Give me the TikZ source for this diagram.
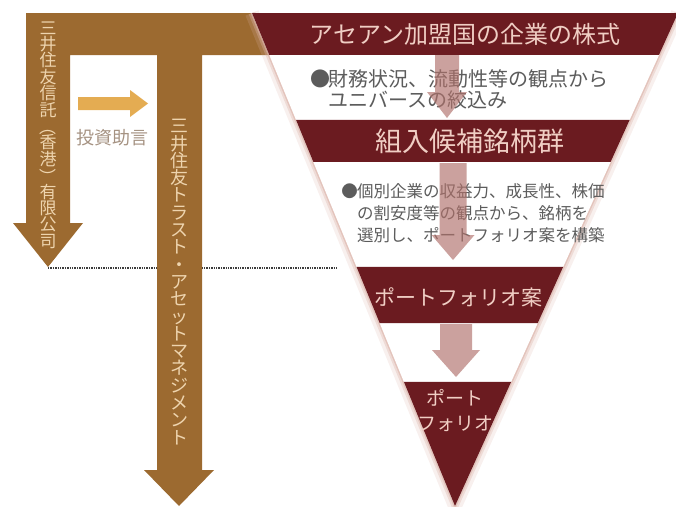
\documentclass[tikz,border=0pt]{standalone}
\usepackage{fontspec}
\setmainfont{Noto Sans CJK JP}
\usepackage{graphicx}
\usepackage{tikz}
\usetikzlibrary{calc}

\definecolor{trustbrown}{RGB}{156,106,48}
\definecolor{columncream}{RGB}{238,212,174}
\definecolor{bandred}{RGB}{107,27,32}
\definecolor{bandpink}{RGB}{240,206,196}
\definecolor{notegray}{RGB}{92,92,92}
\definecolor{dotgray}{RGB}{60,60,60}
\definecolor{advicegold}{RGB}{228,172,82}
\definecolor{advicegray}{RGB}{165,146,130}
\definecolor{arrowpink}{RGB}{176,112,106}
\definecolor{shadowpink}{RGB}{220,180,170}

% bracket turned for vertical setting
\newcommand{\vbracket}[1]{\makebox[1em]{\raisebox{.8em}[.88em][.12em]{\rotatebox{-90}{#1}}}}

\tikzset{
  bandlabel/.style={text=bandpink, inner sep=0pt},
  notelabel/.style={text=notegray, inner sep=0pt, anchor=west, align=left},
  columnlabel/.style={text=columncream, inner sep=0pt, align=center},
  funnelarrow/.style={fill=arrowpink, fill opacity=.65},
}

\begin{document}
\begin{tikzpicture}[x=1pt, y=-1pt]
			\useasboundingbox (0,0) rectangle (676,506);
			\coordinate (tl) at (252,13);
			\coordinate (tr) at (678,13);
			\coordinate (ap) at (455,506);
			% dotted line behind the frame
			\coordinate (hktip) at (48,268);
			\coordinate (dotend) at (338,268);
			\draw[dotgray, line width=1.6pt, dash pattern=on 1.3pt off 1.1pt] (hktip) -- (dotend);
			% brown frame with both arrows
			\fill[trustbrown] (26,13) -- (275,13) -- (275,55) -- (202,55) -- (202,470) -- (214,470) -- (179,506) -- (144,470) -- (157,470) -- (157,55) -- (70,55) -- (70,223) -- (83,223) -- (48,267) -- (13,223) -- (26,223) -- cycle;
			\node[columnlabel, font=\fontsize{17}{16.4}\selectfont] (hongkong) at (48,135) {三\\井\\住\\友\\信\\託\\\vbracket{（}\\香\\港\\\vbracket{）}\\有\\限\\公\\司};
			\node[columnlabel, font=\fontsize{18}{17.3}\selectfont] (assetmgmt) at (179,282) {三\\井\\住\\友\\ト\\ラ\\ス\\ト\\・\\ア\\セ\\ッ\\ト\\マ\\ネ\\ジ\\メ\\ン\\ト};
			\fill[advicegold] (78,97) -- (130,97) -- (130,90) -- (148,103.5) -- (130,117) -- (130,110) -- (78,110) -- cycle;
			\node[text=advicegray, font=\fontsize{18}{18}\selectfont, inner sep=0pt] (advice) at (112,138) {投資助言};
			% funnel
			\draw[shadowpink, line width=14pt, opacity=.2] (tl) -- (ap) -- (tr);
			\draw[shadowpink, line width=7pt, opacity=.35] (tl) -- (ap) -- (tr);
			\draw[shadowpink, line width=3pt, opacity=.6] (tl) -- (ap) -- (tr);
			\fill[white] (tl) -- (tr) -- (ap) -- cycle;
			\fill[bandred] (tl) -- (tr) -- ($(tr)!.085!(ap)$) -- ($(tl)!.085!(ap)$) -- cycle;
			\fill[bandred] ($(tl)!.217!(ap)$) -- ($(tr)!.217!(ap)$) -- ($(tr)!.302!(ap)$) -- ($(tl)!.302!(ap)$) -- cycle;
			\fill[bandred] ($(tl)!.515!(ap)$) -- ($(tr)!.515!(ap)$) -- ($(tr)!.629!(ap)$) -- ($(tl)!.629!(ap)$) -- cycle;
			\fill[bandred] ($(tl)!.748!(ap)$) -- ($(tr)!.748!(ap)$) -- (ap) -- cycle;
			\node[bandlabel, font=\fontsize{24}{24}\selectfont] (stocks) at (465,34) {アセアン加盟国の企業の株式};
			\node[notelabel, font=\fontsize{20}{21}\selectfont] (screening) at (313,89) {\makebox[15pt][c]{●}財務状況、流動性等の観点から\\\hspace*{15pt}ユニバースの絞込み};
			\node[bandlabel, font=\fontsize{27}{27}\selectfont] (candidates) at (470,141) {組入候補銘柄群};
			\node[notelabel, font=\fontsize{16.5}{22}\selectfont] (selection) at (342,213.5) {\makebox[15pt][c]{●}個別企業の収益力、成長性、株価\\\hspace*{15pt}の割安度等の観点から、銘柄を\\\hspace*{15pt}選別し、ポートフォリオ案を構築};
			\node[bandlabel, font=\fontsize{21}{21}\selectfont] (draft) at (458,297) {ポートフォリオ案};
			\node[bandlabel, align=center, font=\fontsize{19}{25}\selectfont] (portfolio) at (455,411) {ポート\\フォリオ};
			% pink arrows between the bands
			\foreach \cx/\ya/\yb/\yc/\sw/\hw in {447/55/92/118/12/20, 453/163/235/260/13.5/21.5, 456/324/350/377/16/24}
				\fill[funnelarrow] (\cx-\sw,\ya) -- (\cx+\sw,\ya) -- (\cx+\sw,\yb) -- (\cx+\hw,\yb) -- (\cx,\yc) -- (\cx-\hw,\yb) -- (\cx-\sw,\yb) -- cycle;
		\end{tikzpicture}
\end{document}
